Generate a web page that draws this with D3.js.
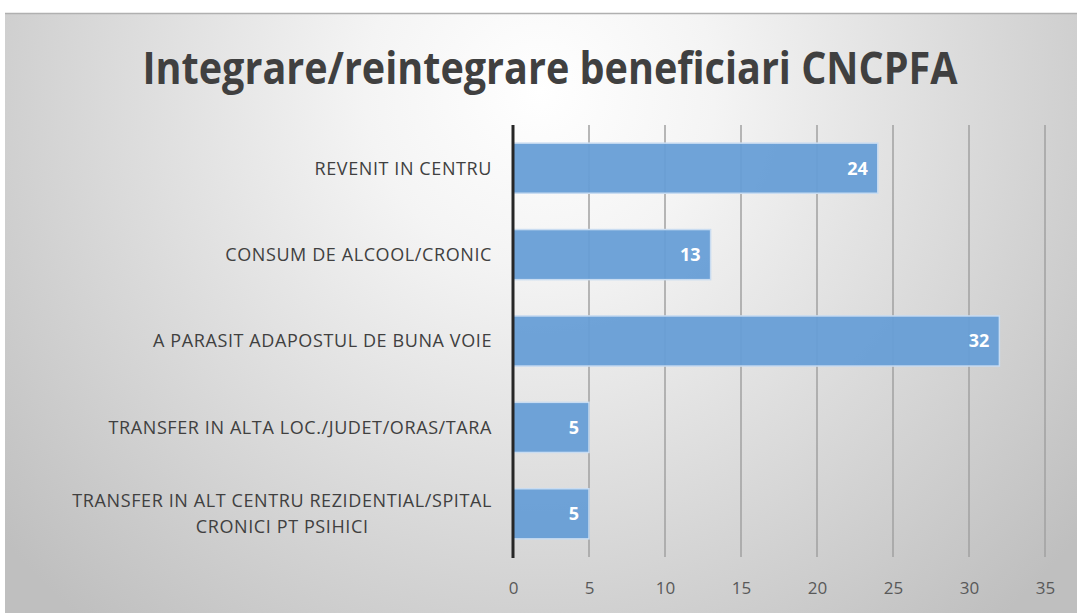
<!DOCTYPE html>
<html lang='en'>
  <head>
    <meta charset='utf-8'>
    <title>Integrare/reintegrare beneficiari CNCPFA</title>
    <script type='text/javascript' src='https://cdn.jsdelivr.net/npm/d3@7/dist/d3.min.js'></script>
    <style type='text/css'>
      body { margin: 0; background: #fff; font-family: 'Open Sans', sans-serif; }
      svg { display: block; }
    </style>
  </head>
  <body>
    <div id='chart'></div>
    <script type='text/javascript'>

    // data
    var categories = [
      'REVENIT IN CENTRU',
      'CONSUM DE ALCOOL/CRONIC',
      'A PARASIT ADAPOSTUL DE BUNA VOIE',
      'TRANSFER IN ALTA LOC./JUDET/ORAS/TARA',
      'TRANSFER IN ALT CENTRU REZIDENTIAL/SPITAL|CRONICI PT PSIHICI'
    ];
    var values = [24, 13, 32, 5, 5];
    var xTicks = [0, 5, 10, 15, 20, 25, 30, 35];
    var title = 'Integrare/reintegrare beneficiari CNCPFA';

    var W = 1077, H = 613;
    var margin = { top: 125, right: 32, bottom: 56, left: 513 };
    var width = W - margin.left - margin.right,
        height = H - margin.top - margin.bottom;

    var svg = d3.select('#chart').append('svg')
        .attr('width', W)
        .attr('height', H);

    // background panel with radial gradient
    var defs = svg.append('defs');
    var grad = defs.append('radialGradient')
        .attr('id', 'bg')
        .attr('gradientUnits', 'userSpaceOnUse')
        .attr('cx', 540).attr('cy', 90).attr('r', 700);
    grad.append('stop').attr('offset', '0%').attr('stop-color', '#ffffff');
    grad.append('stop').attr('offset', '25%').attr('stop-color', '#f4f4f4');
    grad.append('stop').attr('offset', '100%').attr('stop-color', '#bfbfbf');

    svg.append('rect')
        .attr('x', 5).attr('y', 13)
        .attr('width', W - 5).attr('height', H - 13)
        .attr('fill', 'url(#bg)');
    svg.append('line')
        .attr('x1', 5).attr('x2', W).attr('y1', 13.5).attr('y2', 13.5)
        .attr('stroke', '#b0b0b0').attr('stroke-width', 1.5);

    // title
    var t = svg.append('text')
        .attr('x', 550).attr('y', 84)
        .attr('text-anchor', 'middle')
        .style('font-family', "'Open Sans', sans-serif")
        .style('font-weight', 'bold')
        .style('font-size', '44px')
        .attr('fill', '#404040')
        .text(title);
    t.attr('textLength', 815).attr('lengthAdjust', 'spacingAndGlyphs');

    var g = svg.append('g')
        .attr('transform', 'translate(' + margin.left + ',' + margin.top + ')');

    // scales
    var x = d3.scaleLinear().domain([0, 35]).range([0, width]);
    var y = d3.scaleBand().domain(categories).range([0, height]).paddingInner(0.42).paddingOuter(0.21);

    // gridlines
    g.append('g').selectAll('line')
        .data(xTicks.slice(1))
        .enter().append('line')
        .attr('x1', function(d) { return x(d); })
        .attr('x2', function(d) { return x(d); })
        .attr('y1', 0).attr('y2', height)
        .attr('stroke', '#a0a0a0')
        .attr('stroke-width', 1.5);

    // bars
    g.append('g').selectAll('rect')
        .data(values)
        .enter().append('rect')
        .attr('x', x(0))
        .attr('y', function(d, i) { return y(categories[i]); })
        .attr('width', function(d) { return x(d) - x(0); })
        .attr('height', y.bandwidth())
        .attr('fill', '#679ed6')
        .attr('fill-opacity', 0.95)
        .attr('stroke', '#c9dcf1')
        .attr('stroke-width', 1.5);

    // data labels
    g.append('g').selectAll('text')
        .data(values)
        .enter().append('text')
        .attr('x', function(d) { return x(d) - 10; })
        .attr('y', function(d, i) { return y(categories[i]) + y.bandwidth() / 2; })
        .attr('dy', '0.36em')
        .attr('text-anchor', 'end')
        .style('font-weight', 'bold')
        .style('font-size', '18px')
        .attr('fill', '#ffffff')
        .text(function(d) { return d; });

    // vertical axis line
    g.append('line')
        .attr('x1', x(0)).attr('x2', x(0))
        .attr('y1', 0).attr('y2', height + 1)
        .attr('stroke', '#262626')
        .attr('stroke-width', 3);

    // x axis tick labels
    var xAxis = d3.axisBottom(x).tickValues(xTicks).tickSize(0).tickPadding(25);
    var ax = g.append('g')
        .attr('transform', 'translate(0,' + height + ')')
        .call(xAxis);
    ax.select('.domain').remove();
    ax.selectAll('text')
        .style('font-family', "'Open Sans', sans-serif")
        .style('font-size', '17px')
        .attr('fill', '#595959');

    // category labels
    g.append('g').selectAll('text')
        .data(categories)
        .enter().append('text')
        .style('font-size', '18px')
        .style('letter-spacing', '0.6px')
        .attr('fill', '#404040')
        .attr('text-anchor', 'middle')
        .each(function(d) {
          var lines = d.split('|');
          var el = d3.select(this);
          var cy = y(d) + y.bandwidth() / 2;
          var lh = 26;
          lines.forEach(function(l, k) {
            el.append('tspan')
              .attr('x', 0)
              .attr('y', cy + (k - (lines.length - 1) / 2) * lh)
              .attr('dy', '0.36em')
              .text(l);
          });
          var w = this.getBBox().width;
          el.selectAll('tspan').attr('x', -21 - w / 2);
        });

    </script>
  </body>
</html>
